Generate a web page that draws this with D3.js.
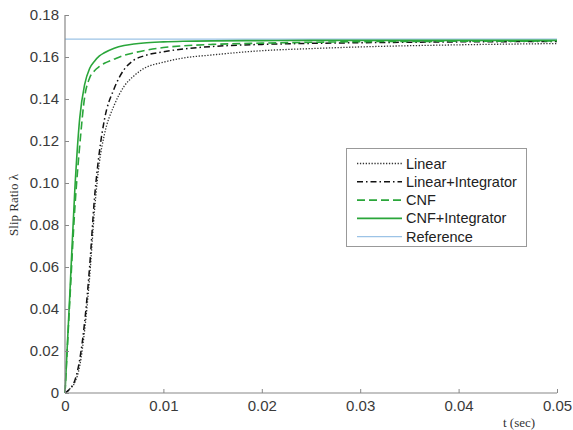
<!DOCTYPE html>
<html>
<head>
	<script src="https://cdn.jsdelivr.net/npm/d3@7"></script>
	<style>
		body { margin: 0; background: #fff; }
		text { font-family: "Liberation Sans", Arial, sans-serif; }
	</style>
</head>
<body>
	<svg width="573" height="430"></svg>
	<script>
		// time grid (sec)
		var times = [0, 0.0005, 0.001, 0.0015, 0.002, 0.0025, 0.003, 0.0035, 0.004, 0.005, 0.006,
			0.007, 0.008, 0.01, 0.012, 0.015, 0.02, 0.025, 0.03, 0.04, 0.05];

		var linear = [0, 0.002, 0.005, 0.013, 0.030, 0.055, 0.087, 0.110, 0.123, 0.137, 0.146,
			0.151, 0.1545, 0.1575, 0.1595, 0.161, 0.163, 0.164, 0.1648, 0.1658, 0.1664];
		var linearInt = [0, 0.002, 0.006, 0.016, 0.034, 0.060, 0.093, 0.115, 0.130, 0.145, 0.154,
			0.1585, 0.1605, 0.1625, 0.1638, 0.165, 0.166, 0.1665, 0.1668, 0.1672, 0.1674];
		var cnf = [0, 0.045, 0.088, 0.118, 0.141, 0.150, 0.1535, 0.1555, 0.157, 0.159, 0.1608,
			0.162, 0.163, 0.1645, 0.1653, 0.166, 0.1666, 0.167, 0.1673, 0.1675, 0.1676];
		var cnfInt = [0, 0.048, 0.097, 0.131, 0.147, 0.1545, 0.158, 0.1605, 0.162, 0.1642, 0.1655,
			0.1662, 0.1667, 0.1672, 0.1675, 0.1677, 0.1678, 0.1679, 0.1679, 0.1679, 0.1679];
		var reference = times.map(() => 0.1685);

		var seriesNames = ["Linear", "Linear+Integrator", "CNF", "CNF+Integrator", "Reference"];
		var xTicks = [0, 0.01, 0.02, 0.03, 0.04, 0.05];
		var yTicks = [0, 0.02, 0.04, 0.06, 0.08, 0.1, 0.12, 0.14, 0.16, 0.18];

		var styles = [
			{ color: "#333", width: 1.3, dash: "1.3,1.6" },
			{ color: "#111", width: 1.5, dash: "6,3,1.5,3" },
			{ color: "#2aa63a", width: 1.6, dash: "8,4" },
			{ color: "#2aa63a", width: 1.6, dash: null },
			{ color: "#9cc3e6", width: 1.3, dash: null }
		];
		var allValues = [linear, linearInt, cnf, cnfInt, reference];

		var svg = d3.select("svg");

		var x = d3.scaleLinear().domain([0, 0.05]).range([65, 557]);
		var y = d3.scaleLinear().domain([0, 0.18]).range([393, 15]);

		var line = d3.line()
			.x(d => x(d[0]))
			.y(d => y(d[1]))
			.curve(d3.curveMonotoneX);

		// draw series: reference first so the others sit on top
		var order = [4, 0, 1, 2, 3];
		order.forEach(function (i) {
			var pts = times.map((t, k) => [t, allValues[i][k]]);
			svg.append("path")
				.attr("d", line(pts))
				.attr("fill", "none")
				.attr("stroke", styles[i].color)
				.attr("stroke-width", styles[i].width)
				.attr("stroke-dasharray", styles[i].dash);
		});

		// axes (ticks pointing inward)
		var xAxis = svg.append("g")
			.attr("transform", "translate(0,393)")
			.call(d3.axisBottom(x).tickValues(xTicks).tickSize(-4).tickPadding(7)
				.tickFormat(d => d === 0 ? "0" : d3.format(".2f")(d)));
		var yAxis = svg.append("g")
			.attr("transform", "translate(65,0)")
			.call(d3.axisLeft(y).tickValues(yTicks).tickSize(-4).tickPadding(6)
				.tickFormat(d => d === 0 ? "0" : d3.format(".2f")(d)));

		[xAxis, yAxis].forEach(function (g) {
			g.select(".domain").attr("stroke", "#888").attr("stroke-width", 1.2);
			g.selectAll(".tick line").attr("stroke", "#888");
			g.selectAll(".tick text")
				.attr("fill", "#3a3a3a")
				.style("font-size", "15px")
				.style("font-family", "'Liberation Sans', Arial, sans-serif");
		});
		yAxis.selectAll(".domain").attr("d", "M0,393V15");
		xAxis.selectAll(".domain").attr("d", "M65,0H557");

		// axis titles
		svg.append("text")
			.attr("transform", "translate(18,205) rotate(-90)")
			.attr("text-anchor", "middle")
			.style("font-family", "'Liberation Serif', 'Times New Roman', serif")
			.style("font-size", "13px")
			.attr("fill", "#333")
			.text("Slip Ratio λ");
		svg.append("text")
			.attr("x", 519)
			.attr("y", 427)
			.attr("text-anchor", "middle")
			.style("font-family", "'Liberation Serif', 'Times New Roman', serif")
			.style("font-size", "13px")
			.attr("fill", "#333")
			.text("t (sec)");

		// legend
		var legend = svg.append("g");
		legend.append("rect")
			.attr("x", 346.5).attr("y", 148.5)
			.attr("width", 180).attr("height", 98)
			.attr("fill", "#fff")
			.attr("stroke", "#999");
		seriesNames.forEach(function (name, i) {
			var ly = 163.5 + i * 18.3;
			legend.append("line")
				.attr("x1", 357).attr("x2", 402)
				.attr("y1", ly).attr("y2", ly)
				.attr("stroke", styles[i].color)
				.attr("stroke-width", styles[i].width)
				.attr("stroke-dasharray", styles[i].dash);
			legend.append("text")
				.attr("x", 406).attr("y", ly + 5)
				.style("font-size", "14.5px")
				.attr("fill", "#222")
				.text(name);
		});
	</script>
</body>
</html>
